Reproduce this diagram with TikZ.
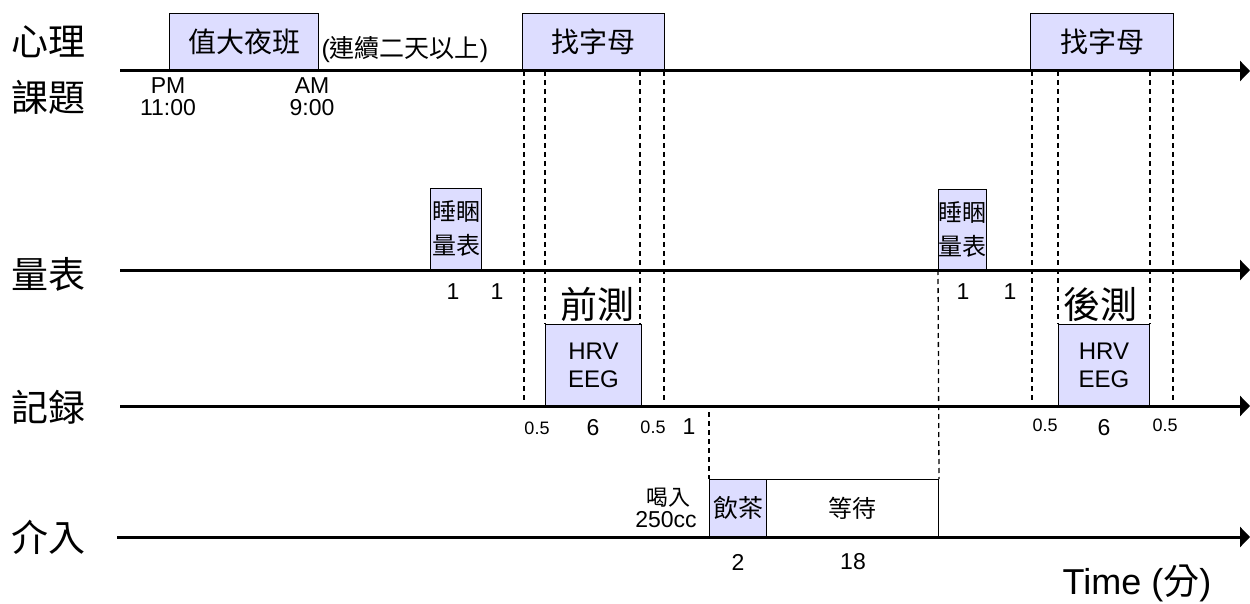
\documentclass[tikz,border=0pt]{standalone}
\usepackage{fontspec}
\setmainfont{Liberation Sans}
\newfontfamily\cjk{Noto Sans CJK TC}
\usetikzlibrary{arrows.meta}
\definecolor{boxfill}{HTML}{DDDDFF}
\begin{document}
\begin{tikzpicture}[x=1pt,y=-1pt,
  axis/.style={line width=3pt,-{Triangle[length=10pt,width=20pt]}},
  lbox/.style={draw=black,line width=1pt,fill=boxfill,inner sep=0pt,anchor=south west,align=center},
  guide/.style={line width=1.3pt,dash pattern=on 5pt off 4pt},
  rowlab/.style={font=\cjk\fontsize{37}{42}\selectfont},
  boxtxt/.style={font=\cjk\fontsize{28}{32}\selectfont},
  smalltxt/.style={font=\cjk\fontsize{24}{34}\selectfont},
  num/.style={font=\fontsize{23}{25}\selectfont},
  tiny/.style={font=\fontsize{18}{20}\selectfont}]
\useasboundingbox (0,0) rectangle (1250,604);
% axes
\coordinate (a1s) at (120,71);  \coordinate (a1e) at (1250,71);
\coordinate (a2s) at (120,270); \coordinate (a2e) at (1250,270);
\coordinate (a3s) at (120,406); \coordinate (a3e) at (1250,406);
\coordinate (a4s) at (117,537); \coordinate (a4e) at (1250,537);
% boxes
\node[lbox,boxtxt,minimum width=149pt,minimum height=57pt] (night) at (169,71) {值大夜班};
\node[lbox,boxtxt,minimum width=142pt,minimum height=57pt] (find1) at (522,71) {找字母};
\node[lbox,boxtxt,minimum width=143pt,minimum height=57pt] (find2) at (1030,71) {找字母};
\node[lbox,smalltxt,minimum width=51pt,minimum height=81pt] (sc1) at (430,270) {睡睏\\量表};
\node[lbox,smalltxt,minimum width=48pt,minimum height=80pt] (sc2) at (938,270) {睡睏\\量表};
\node[lbox,font=\fontsize{24}{28}\selectfont,minimum width=96pt,minimum height=81pt] (hrv1) at (545,406) {HRV\\EEG};
\node[lbox,font=\fontsize{24}{28}\selectfont,minimum width=91pt,minimum height=81pt] (hrv2) at (1058,406) {HRV\\EEG};
\node[lbox,font=\cjk\fontsize{25}{30}\selectfont,minimum width=57pt,minimum height=57pt] (tea) at (709,537) {飲茶};
\node[lbox,smalltxt,fill=white,minimum width=172pt,minimum height=57pt] (wait) at (766,537) {等待};
% axes drawn over box bottoms
\draw[axis] (a1s) -- (a1e);
\draw[axis] (a2s) -- (a2e);
\draw[axis] (a3s) -- (a3e);
\draw[axis] (a4s) -- (a4e);
% dashed guides
\coordinate (g1t) at (524,71);  \coordinate (g1b) at (524,400);
\coordinate (g2t) at (545,71);
\coordinate (g3t) at (640,71);
\coordinate (g4t) at (664,71);  \coordinate (g4b) at (664,400);
\coordinate (g5t) at (1032,71); \coordinate (g5b) at (1032,400);
\coordinate (g6t) at (1058,71);
\coordinate (g7t) at (1150,71);
\coordinate (g8t) at (1173,71); \coordinate (g8b) at (1173,400);
\coordinate (g9t) at (709,412);
\draw[guide] (g1t) -- (g1b);
\draw[guide] (g2t) -- (hrv1.north west);
\draw[guide] (g3t) -- (g3t |- hrv1.north);
\draw[guide] (g4t) -- (g4b);
\draw[guide] (g5t) -- (g5b);
\draw[guide] (g6t) -- (hrv2.north west);
\draw[guide] (g7t) -- (g7t |- hrv2.north);
\draw[guide] (g8t) -- (g8b);
\draw[guide] (g9t) -- (tea.north west);
\draw[guide] (sc2.south west) -- (wait.north east);
% row labels
\node[rowlab] (l1) at (48,42) {心理};
\node[rowlab] (l2) at (48,97) {課題};
\node[rowlab] (l3) at (48,274) {量表};
\node[rowlab] (l4) at (48,407) {記録};
\node[rowlab] (l5) at (48,537) {介入};
% annotations
\node[anchor=west,font=\fontsize{25}{28}\selectfont] (cont) at (318,50) {({\cjk 連續二天以上})};
\node[num] (pm) at (168,86) {PM};
\node[num] (t11) at (168,108) {11:00};
\node[num] (am) at (312,86) {AM};
\node[num] (t9) at (312,108) {9:00};
\node[num] (n1) at (453,292) {1};
\node[num] (n2) at (497,292) {1};
\node[num] (n3) at (963,292) {1};
\node[num] (n4) at (1010,292) {1};
\node[rowlab] (pre) at (597,304) {前測};
\node[rowlab] (post) at (1100,304) {後測};
\node[tiny] (h1) at (537,428) {0.5};
\node[num] (h2) at (593,428) {6};
\node[tiny] (h3) at (653,427) {0.5};
\node[num] (h4) at (689,427) {1};
\node[tiny] (h5) at (1045,425) {0.5};
\node[num] (h6) at (1104,428) {6};
\node[tiny] (h7) at (1165,425) {0.5};
\node[font=\cjk\fontsize{22}{24}\selectfont] (drink) at (668,498) {喝入};
\node[num] (cc) at (666,520) {250cc};
\node[num] (n5) at (738,562) {2};
\node[num] (n6) at (853,562) {18};
\node[font=\fontsize{36}{40}\selectfont] (time) at (1137,583) {Time ({\cjk 分})};
\end{tikzpicture}
\end{document}
